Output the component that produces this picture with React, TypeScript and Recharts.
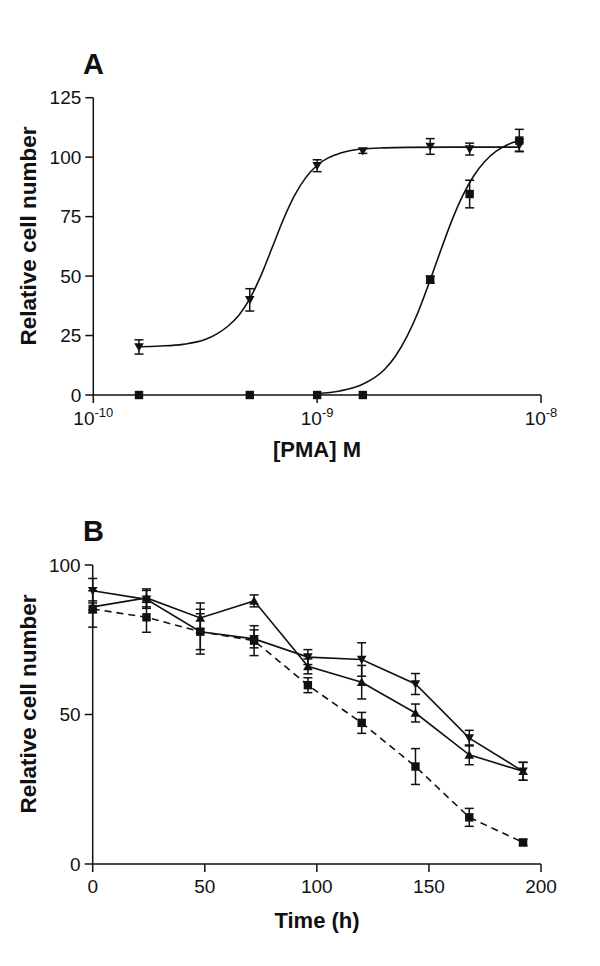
import React from 'react';
import { ComposedChart, LineChart, Line, Scatter, XAxis, YAxis, ErrorBar } from 'recharts';

// ---------- Panel A: dose response ----------
const concA = [1.6e-10, 5e-10, 1e-9, 1.6e-9, 3.2e-9, 4.8e-9, 8e-9];
const triA = [20.2, 40, 96.4, 102.6, 104.5, 103.4, 105];
const triAErr = [3, 4.7, 2.5, 1, 3.3, 2.5, 2.5];
const sqA = [0, 0, 0, 0, 48.5, 84.5, 107];
const sqAErr = [0, 0, 0, 0, 1.5, 5.8, 4.7];

const triCurveX = [1.58e-10, 2.0e-10, 2.51e-10, 3.16e-10, 3.55e-10, 3.98e-10, 4.47e-10, 5.01e-10, 5.62e-10, 6.31e-10, 7.08e-10, 7.94e-10, 8.91e-10, 1e-9, 1.12e-9, 1.26e-9, 1.58e-9, 2.0e-9, 2.51e-9, 3.98e-9, 6.31e-9, 7.94e-9];
const triCurveY = [20.3, 20.6, 21.3, 23.3, 25.6, 28.8, 33.5, 40.6, 50.4, 62.2, 74.0, 84.0, 91.5, 96.6, 99.7, 101.6, 103.4, 103.9, 104.1, 104.2, 104.2, 104.2];
const sqCurveX = [1e-9, 1.26e-9, 1.58e-9, 2.0e-9, 2.24e-9, 2.51e-9, 2.82e-9, 3.16e-9, 3.55e-9, 3.98e-9, 4.47e-9, 5.01e-9, 5.62e-9, 6.31e-9, 7.08e-9, 7.94e-9];
const sqCurveY = [0.6, 1.7, 4.3, 10.7, 16.4, 24.3, 34.7, 47.0, 60.3, 72.9, 83.8, 92.2, 98.3, 102.5, 105.2, 107.0];

const xTicksA = [1e-10, 1e-9, 1e-8];
const yTicksA = [0, 25, 50, 75, 100, 125];

// ---------- Panel B: time course ----------
const timeB = [0, 24, 48, 72, 96, 120, 144, 168, 192];
const downB = [91.4, 88.5, 77.7, 75.3, 69.2, 68.4, 60.2, 42.1, 31];
const downBErr = [4.1, 3, 6, 3, 2.5, 5.6, 3.5, 2.6, 3];
const upB = [86, 89, 82.3, 88, 66.1, 60.8, 50.5, 36.5, 31];
const upBErr = [2, 3, 5, 2, 2.5, 5.6, 3, 3.3, 3];
const sqB = [85.3, 82.5, 77.7, 74.7, 59.8, 47.2, 32.6, 15.6, 7.2];
const sqBErr = [6.1, 5, 7.5, 5, 2.5, 3.5, 6, 3, 1];

const xTicksB = [0, 50, 100, 150, 200];
const yTicksB = [0, 50, 100];

const INK = '#111';
const FONT = '"Liberation Sans", Arial, sans-serif';

const zip = (xs: number[], ys: number[], es?: number[]) =>
  xs.map((x, i) => ({ x, y: ys[i], err: es ? es[i] : 0 }));

const triAData = zip(concA, triA, triAErr);
const sqAData = zip(concA, sqA, sqAErr);
const triCurve = zip(triCurveX, triCurveY);
const sqCurve = zip(sqCurveX, sqCurveY);

const downData = zip(timeB, downB, downBErr);
const upData = zip(timeB, upB, upBErr);
const sqBData = zip(timeB, sqB, sqBErr);

const Square = (p: any) => {
  if (p.cx == null || p.cy == null) return null;
  return <rect x={p.cx - 4.2} y={p.cy - 4.2} width={8.4} height={8.4} fill={INK} />;
};
const TriDown = (p: any) => {
  if (p.cx == null || p.cy == null) return null;
  const { cx, cy } = p;
  return <polygon points={`${cx - 4.8},${cy - 3.8} ${cx + 4.8},${cy - 3.8} ${cx},${cy + 4.6}`} fill={INK} />;
};
const TriUp = (p: any) => {
  if (p.cx == null || p.cy == null) return null;
  const { cx, cy } = p;
  return <polygon points={`${cx - 4.8},${cy + 3.8} ${cx + 4.8},${cy + 3.8} ${cx},${cy - 4.6}`} fill={INK} />;
};

const PowTick = (p: any) => {
  const e = Math.round(Math.log10(p.payload.value));
  return (
    <text x={p.x} y={p.y + 14} textAnchor="middle" fill={INK} fontFamily={FONT} fontSize={19}>
      10<tspan dy={-8} fontSize={13}>{e}</tspan>
    </text>
  );
};

const axisLine = { stroke: INK, strokeWidth: 1.5 };
const tickStyle = { fill: INK, fontSize: 19, fontFamily: FONT };

export default function App() {
  return (
    <div style={{ position: 'absolute', left: 0, top: 0, width: 600, height: 966, background: '#fff' }}>
      <div style={{ position: 'absolute', left: 0, top: 0 }}>
        <ComposedChart width={600} height={480} margin={{ top: 97.7, right: 59, bottom: 45, left: 33.3 }}>
          <XAxis
            dataKey="x"
            type="number"
            scale="log"
            domain={[1e-10, 1e-8]}
            ticks={xTicksA}
            allowDataOverflow
            height={40}
            tickSize={8}
            tickMargin={8}
            axisLine={axisLine}
            tickLine={axisLine}
            tick={<PowTick />}
          />
          <YAxis
            type="number"
            domain={[0, 125]}
            ticks={yTicksA}
            width={60}
            tickSize={8}
            tickMargin={4}
            axisLine={axisLine}
            tickLine={axisLine}
            tick={tickStyle}
          />
          <Line data={triCurve} dataKey="y" type="monotone" stroke={INK} strokeWidth={1.6} dot={false} isAnimationActive={false} />
          <Line data={sqCurve} dataKey="y" type="monotone" stroke={INK} strokeWidth={1.6} dot={false} isAnimationActive={false} />
          <Scatter data={triAData} dataKey="y" shape={<TriDown />} isAnimationActive={false}>
            <ErrorBar dataKey="err" direction="y" width={4.5} stroke={INK} strokeWidth={1.5} />
          </Scatter>
          <Scatter data={sqAData} dataKey="y" shape={<Square />} isAnimationActive={false}>
            <ErrorBar dataKey="err" direction="y" width={4.5} stroke={INK} strokeWidth={1.5} />
          </Scatter>
        </ComposedChart>
      </div>
      <div style={{ position: 'absolute', left: 0, top: 480 }}>
        <ComposedChart width={600} height={486} margin={{ top: 85, right: 59, bottom: 62, left: 32.7 }}>
          <XAxis
            dataKey="x"
            type="number"
            domain={[0, 200]}
            ticks={xTicksB}
            height={40}
            tickSize={8}
            tickMargin={8}
            axisLine={axisLine}
            tickLine={axisLine}
            tick={tickStyle}
          />
          <YAxis
            type="number"
            domain={[0, 100]}
            ticks={yTicksB}
            width={60}
            tickSize={8}
            tickMargin={4}
            axisLine={axisLine}
            tickLine={axisLine}
            tick={tickStyle}
          />
          <Line data={downData} dataKey="y" type="linear" stroke={INK} strokeWidth={1.6} dot={<TriDown />} activeDot={false} isAnimationActive={false}>
            <ErrorBar dataKey="err" direction="y" width={4.5} stroke={INK} strokeWidth={1.5} />
          </Line>
          <Line data={upData} dataKey="y" type="linear" stroke={INK} strokeWidth={1.6} dot={<TriUp />} activeDot={false} isAnimationActive={false}>
            <ErrorBar dataKey="err" direction="y" width={4.5} stroke={INK} strokeWidth={1.5} />
          </Line>
          <Line data={sqBData} dataKey="y" type="linear" stroke={INK} strokeWidth={1.6} strokeDasharray="7 5" dot={<Square />} activeDot={false} isAnimationActive={false}>
            <ErrorBar dataKey="err" direction="y" width={4.5} stroke={INK} strokeWidth={1.5} />
          </Line>
        </ComposedChart>
      </div>
      <svg width={600} height={966} style={{ position: 'absolute', left: 0, top: 0, pointerEvents: 'none' }}>
        <g fontFamily={FONT} fill={INK} fontWeight="bold">
          <text x={83} y={74} fontSize={29}>A</text>
          <text x={83} y={541} fontSize={29}>B</text>
          <text x={35.5} y={236} fontSize={22.5} textAnchor="middle" transform="rotate(-90 35.5 236)">Relative cell number</text>
          <text x={35.5} y={704} fontSize={22.5} textAnchor="middle" transform="rotate(-90 35.5 704)">Relative cell number</text>
          <text x={317} y={457} fontSize={22} textAnchor="middle">[PMA] M</text>
          <text x={317} y={928} fontSize={22} textAnchor="middle">Time (h)</text>
        </g>
      </svg>
    </div>
  );
}
